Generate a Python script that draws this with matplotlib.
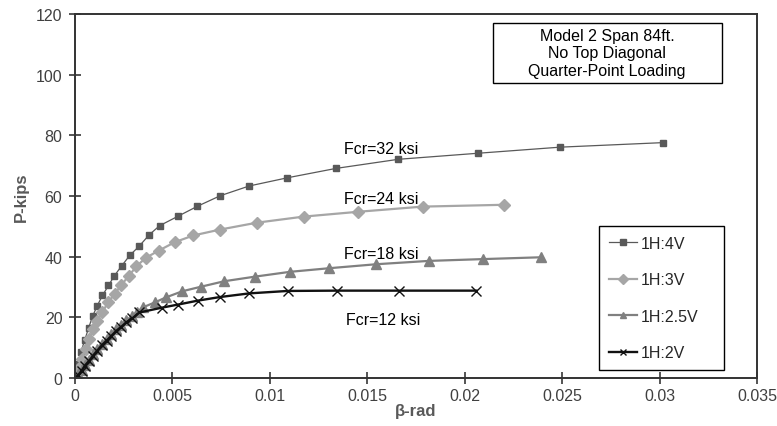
import matplotlib
matplotlib.use('Agg')
import matplotlib.pyplot as plt
from matplotlib.patches import Rectangle

plt.rcParams['font.family'] = ['Liberation Sans', 'DejaVu Sans']

# 1H:4V  (Fcr=32 ksi)
x_4v = [0, 0.00015, 0.0003, 0.0005, 0.0007, 0.0009, 0.00114, 0.00141, 0.00172, 0.00201,
        0.0024, 0.00281, 0.0033, 0.00381, 0.00434, 0.00531, 0.00628, 0.00746, 0.00894,
        0.0109, 0.0134, 0.0166, 0.0207, 0.0249, 0.0302]
y_4v = [0, 4.5, 8.5, 12.5, 16.5, 20.3, 23.8, 27.2, 30.5, 33.6,
        37.0, 40.4, 43.5, 47.2, 50.2, 53.4, 56.6, 60.1, 63.3,
        66.0, 69.1, 72.1, 74.1, 76.1, 77.6]

# 1H:3V  (Fcr=24 ksi)
x_3v = [0, 0.00017, 0.00034, 0.00056, 0.00073, 0.00094, 0.00114, 0.00141, 0.0017, 0.00204,
        0.00238, 0.00277, 0.00315, 0.00363, 0.0043, 0.00513, 0.00608, 0.00742, 0.00933,
        0.01173, 0.01454, 0.01784, 0.0220]
y_3v = [0, 3.0, 6.3, 9.6, 12.9, 16.2, 18.9, 21.7, 25.0, 27.7,
        30.7, 33.7, 36.8, 39.6, 42.0, 44.8, 47.0, 48.9, 51.2,
        53.2, 54.8, 56.5, 57.1]

# 1H:2.5V  (Fcr=18 ksi)
x_25v = [0, 0.00017, 0.00034, 0.00051, 0.00073, 0.00093, 0.00114, 0.00139, 0.00162, 0.00187,
         0.00213, 0.00238, 0.00264, 0.00295, 0.0032, 0.00349, 0.00409, 0.00468, 0.00551,
         0.00647, 0.00766, 0.00922, 0.01103, 0.01306, 0.01545, 0.01815, 0.02094, 0.02392]
y_25v = [0, 1.2, 2.7, 4.4, 6.0, 7.8, 9.4, 11.3, 12.8, 14.4,
         16.1, 17.5, 19.0, 20.5, 21.8, 23.3, 24.9, 26.6, 28.6,
         30.1, 31.9, 33.4, 35.0, 36.2, 37.5, 38.6, 39.2, 39.8]

# 1H:2V  (Fcr=12 ksi)
x_2v = [0, 0.00017, 0.00034, 0.00051, 0.00073, 0.00093, 0.00114, 0.00139, 0.00162, 0.00187,
        0.00213, 0.00238, 0.00264, 0.00295, 0.0033, 0.00447, 0.00528, 0.0063, 0.00745,
        0.00895, 0.01092, 0.01345, 0.01663, 0.0206]
y_2v = [0, 1.0, 2.4, 4.1, 5.7, 7.4, 9.0, 10.9, 12.3, 13.9,
        15.6, 16.9, 18.4, 19.7, 21.6, 23.2, 24.2, 25.5, 26.7,
        27.9, 28.7, 28.8, 28.8, 28.8]

labels = ['1H:4V', '1H:3V', '1H:2.5V', '1H:2V']
fcr_text = ['Fcr=32 ksi', 'Fcr=24 ksi', 'Fcr=18 ksi', 'Fcr=12 ksi']
fcr_pos = [(0.0157, 75.5), (0.0157, 59.2), (0.0157, 41.0), (0.0158, 19.3)]
note = 'Model 2 Span 84ft.\nNo Top Diagonal\nQuarter-Point Loading'

fig = plt.figure(figsize=(7.77, 4.27), dpi=100)
ax = fig.add_axes([0.0965, 0.1124, 0.8777, 0.8525])

ax.plot(x_4v, y_4v, color='#595959', lw=0.9, marker='s', ms=5, label=labels[0])
ax.plot(x_3v, y_3v, color='#a6a6a6', lw=1.6, marker='D', ms=6.2, label=labels[1])
ax.plot(x_25v, y_25v, color='#808080', lw=1.6, marker='^', ms=6.5, label=labels[2])
ax.plot(x_2v, y_2v, color='#111111', lw=1.7, marker='x', ms=6.5, mew=1.0, label=labels[3])

for t, (tx, ty) in zip(fcr_text, fcr_pos):
    ax.text(tx, ty, t, fontsize=11.5, ha='center', va='center', color='black')

ax.set_xlim(0, 0.035)
ax.set_ylim(0, 120)
ax.set_xticks([0, 0.005, 0.01, 0.015, 0.02, 0.025, 0.03, 0.035])
ax.set_xticklabels(['0', '0.005', '0.01', '0.015', '0.02', '0.025', '0.03', '0.035'])
ax.set_yticks([0, 20, 40, 60, 80, 100, 120])
ax.tick_params(direction='inout', length=8, width=1.1, colors='#262626',
               labelcolor='#404040', labelsize=11.5)
ax.tick_params(axis='y', pad=5)
ax.tick_params(axis='x', pad=3)
for s in ax.spines.values():
    s.set_color('#333333')
    s.set_linewidth(1.4)

ax.set_xlabel('β-rad', fontsize=12, fontweight='bold', color='#595959', labelpad=0)
ax.set_ylabel('P-kips', fontsize=12, fontweight='bold', color='#595959', labelpad=5)

# note box
ax.add_patch(Rectangle((0.6125, 0.811), 0.3358, 0.165, transform=ax.transAxes,
                       fill=False, ec='black', lw=1.0, zorder=5))
ax.text(0.7804, 0.8935, note, transform=ax.transAxes, ha='center', va='center',
        fontsize=11.5, linespacing=1.2, zorder=6)

leg = ax.legend(loc='lower left', bbox_to_anchor=(0.769, 0.022, 0.182, 0.401),
                mode='expand', fontsize=11.5, markerscale=0.75, handlelength=1.75,
                handletextpad=0.25, labelspacing=1.35, borderpad=0.6, borderaxespad=0,
                fancybox=False, framealpha=1)
leg.get_frame().set_edgecolor('black')
leg.get_frame().set_linewidth(1.0)
for t in leg.get_texts():
    t.set_color('#262626')

fig.savefig('out.png', dpi=100)
